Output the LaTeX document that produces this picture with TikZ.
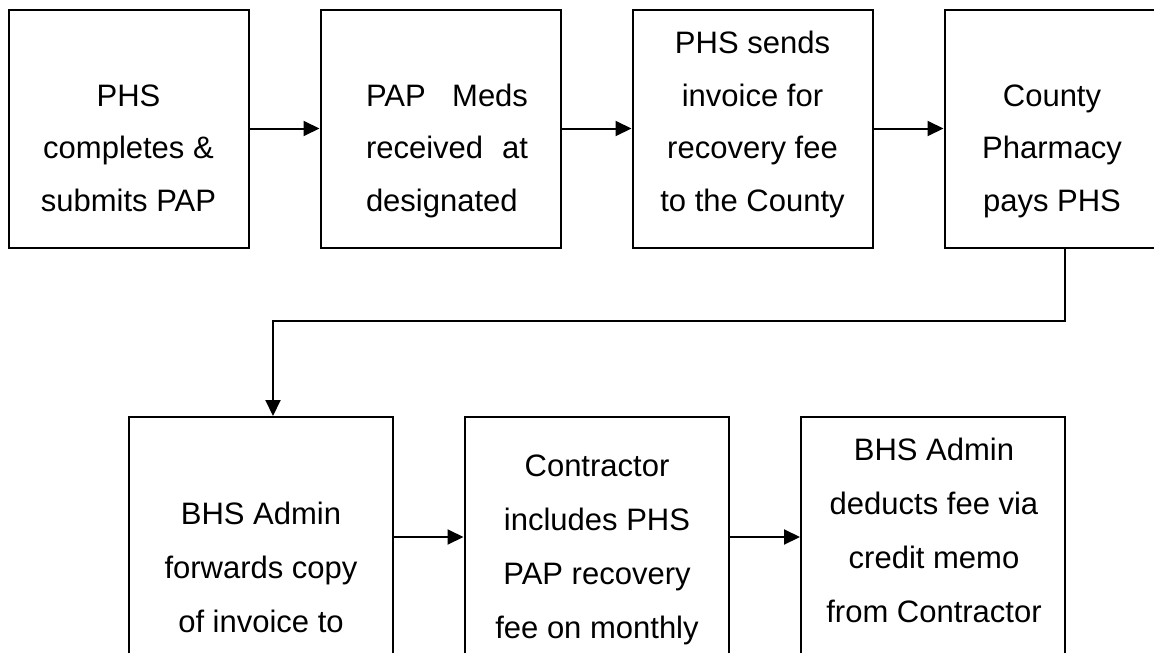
\documentclass[tikz,border=0pt]{standalone}
\usepackage{fontspec}
\setmainfont{Liberation Sans}
\usetikzlibrary{arrows.meta,positioning}

\begin{document}
\begin{tikzpicture}[
	x=1pt, y=-1pt,
	stage/.style={draw, line width=2pt, minimum width=240pt, minimum height=238pt, inner sep=0pt},
	lowstage/.style={stage, minimum width=264pt, minimum height=240pt},
	words/.style={font=\fontsize{31}{52.5}\selectfont, align=center, anchor=base, inner sep=0pt},
	lowwords/.style={words, font=\fontsize{31}{54}\selectfont},
	flow/.style={line width=2pt, -{Triangle[length=16pt,width=15pt]}}
]
	\useasboundingbox (0,0) rectangle (1154,653);
	\clip (0,0) rectangle (1154,653);

	\node[stage] (submit) at (128.5,128.5) {};
	\node[stage] (meds) at (440.5,128.5) {};
	\node[stage] (invoice) at (752.5,128.5) {};
	\node[stage] (county) at (1064.5,128.5) {};

	\node[lowstage] (forward) at (261,537) {};
	\node[lowstage] (contractor) at (596.5,537) {};
	\node[lowstage] (credit) at (933,537) {};

	\node[words] (submittext) at (128.5,211) {PHS\\completes \&\\submits PAP};
	\node[words] (medstext) at (447,211) {\makebox[162pt][s]{PAP Meds}\\\makebox[162pt][s]{received at}\\\makebox[162pt][l]{designated}};
	\node[words] (invoicetext) at (752.5,211) {PHS sends\\invoice for\\recovery fee\\to the County};
	\node[words] (countytext) at (1052,211) {County\\Pharmacy\\pays PHS};

	\node[lowwords] (forwardtext) at (261,632) {BHS Admin\\forwards copy\\of invoice to};
	\node[lowwords] (contractortext) at (597,638) {Contractor\\includes PHS\\PAP recovery\\fee on monthly};
	\node[lowwords] (credittext) at (934,622) {BHS Admin\\deducts fee via\\credit memo\\from Contractor};

	\draw[flow] (submit) -- (meds);
	\draw[flow] (meds) -- (invoice);
	\draw[flow] (invoice) -- (county);

	\coordinate (bend) at (1064.5,321);
	\draw[flow] (county.south) -- (bend) -| ([xshift=12pt]forward.north);

	\draw[flow] (forward) -- (contractor);
	\draw[flow] (contractor) -- (credit);
\end{tikzpicture}
\end{document}
